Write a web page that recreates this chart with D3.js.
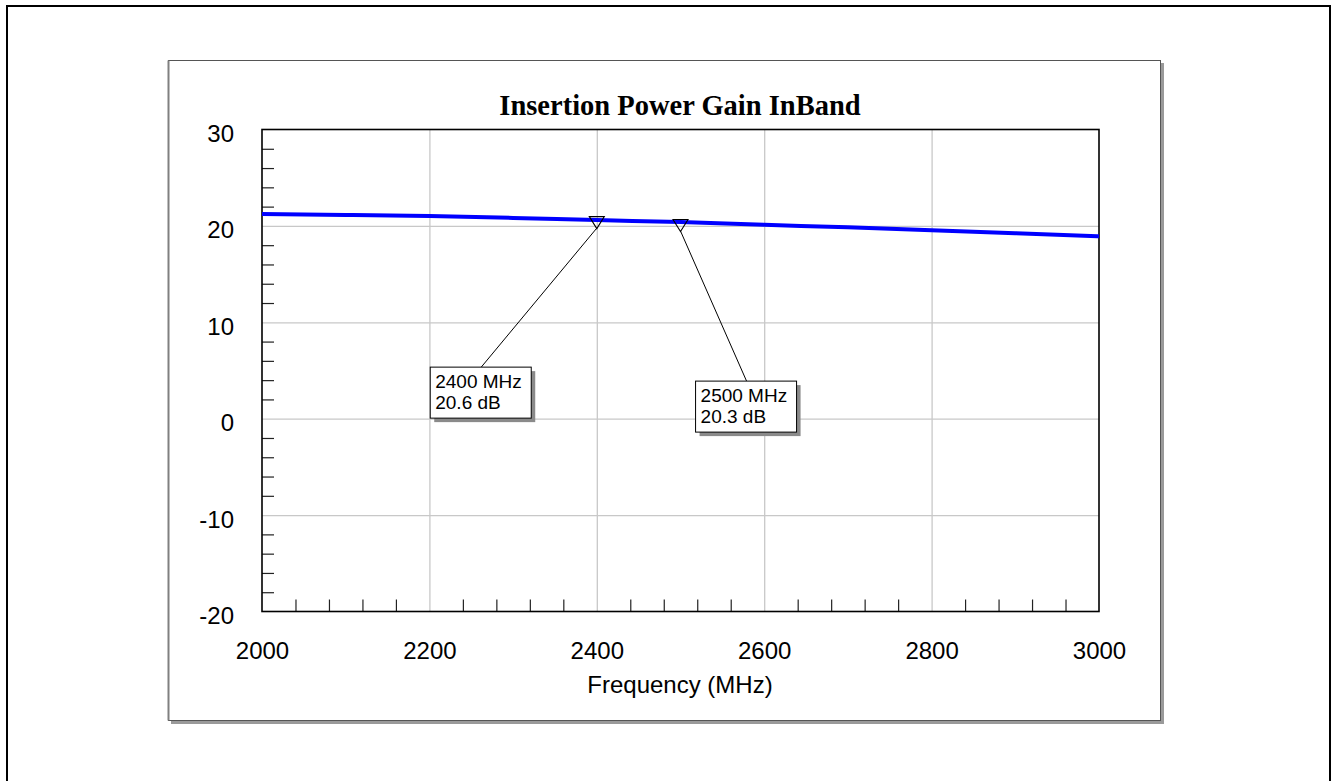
<!DOCTYPE html>
<html>
<head>
<meta charset="utf-8">
<script src="https://cdn.jsdelivr.net/npm/d3@7"></script>
<style>
  html, body { margin: 0; padding: 0; background: #fff; }
  svg { display: block; }
</style>
</head>
<body>
<svg id="chart" width="1334" height="781"></svg>
<script>
// ---- Data ----
const title = "Insertion Power Gain InBand";
const xAxisLabel = "Frequency (MHz)";
const freqMHz = [2000, 2100, 2200, 2300, 2400, 2500, 2600, 2700, 2800, 2900, 3000];
const gainDb  = [21.23, 21.14, 21.02, 20.83, 20.6, 20.4, 20.12, 19.85, 19.56, 19.25, 18.92];
const xTicks = [2000, 2200, 2400, 2600, 2800, 3000];
const yTicks = [-20, -10, 0, 10, 20, 30];
const markerFreq = [2400, 2500];
const markerGain = [20.6, 20.3];
const markerLabels = [["2400 MHz", "20.6 dB"], ["2500 MHz", "20.3 dB"]];
// label box anchors (top-left) in data coordinates
const labelBoxFreq = [2201, 2518];
const labelBoxGain = [5.35, 3.9];

// ---- Layout ----
const svg = d3.select("#chart");
const plot = { left: 262, top: 129.5, right: 1099, bottom: 611.5 };
const x = d3.scaleLinear().domain([2000, 3000]).range([plot.left, plot.right]);
const y = d3.scaleLinear().domain([-20, 30]).range([plot.bottom, plot.top]);
const sans = "Arial, 'Liberation Sans', sans-serif";
const fmt = d => String(d);

// outer border
svg.append("rect").attr("x", 7).attr("y", 6).attr("width", 1323).attr("height", 800)
  .attr("fill", "none").attr("stroke", "#000").attr("stroke-width", 2);

// panel with shadow
svg.append("rect").attr("x", 171).attr("y", 63).attr("width", 993).attr("height", 661)
  .attr("fill", "#9a9a9a");
svg.append("rect").attr("x", 168.5).attr("y", 60.5).attr("width", 992).attr("height", 660)
  .attr("fill", "#fff").attr("stroke", "#555").attr("stroke-width", 1);
svg.append("line").attr("x1", 168.5).attr("x2", 168.5).attr("y1", 60.5).attr("y2", 720.5)
  .attr("stroke", "#808080").attr("stroke-width", 2);

// gridlines
const gx = svg.append("g").attr("class", "grid-x")
  .attr("transform", `translate(0,${plot.bottom})`)
  .call(d3.axisBottom(x).tickValues(xTicks.slice(1, -1)).tickSize(-(plot.bottom - plot.top)).tickFormat(""));
gx.select(".domain").remove();
gx.selectAll("line").attr("stroke", "#c8c8c8").attr("stroke-width", 1.3);
const gy = svg.append("g").attr("class", "grid-y")
  .attr("transform", `translate(${plot.left},0)`)
  .call(d3.axisLeft(y).tickValues(yTicks.slice(1, -1)).tickSize(-(plot.right - plot.left)).tickFormat(""));
gy.select(".domain").remove();
gy.selectAll("line").attr("stroke", "#c8c8c8").attr("stroke-width", 1.3);

// minor ticks
const xMinor = d3.range(2000, 3000, 40).filter(v => v % 200 !== 0);
const yMinor = d3.range(-20, 30, 2).filter(v => v % 10 !== 0);
const mx = svg.append("g").attr("transform", `translate(0,${plot.bottom})`)
  .call(d3.axisBottom(x).tickValues(xMinor).tickSize(-12).tickFormat(""));
mx.select(".domain").remove();
mx.selectAll("line").attr("stroke", "#222").attr("stroke-width", 1.2);
const my = svg.append("g").attr("transform", `translate(${plot.left},0)`)
  .call(d3.axisLeft(y).tickValues(yMinor).tickSize(-12).tickFormat(""));
my.select(".domain").remove();
my.selectAll("line").attr("stroke", "#222").attr("stroke-width", 1.2);

// tick labels
const xl = svg.append("g").attr("transform", `translate(0,${plot.bottom})`)
  .call(d3.axisBottom(x).tickValues(xTicks).tickSize(0).tickPadding(0).tickFormat(fmt));
xl.select(".domain").remove();
xl.selectAll("text").attr("font-family", sans).attr("font-size", 24).attr("fill", "#000")
  .attr("dy", null).attr("y", 47);
const yl = svg.append("g").attr("transform", `translate(${plot.left},0)`)
  .call(d3.axisLeft(y).tickValues(yTicks).tickSize(0).tickPadding(0).tickFormat(fmt));
yl.select(".domain").remove();
yl.selectAll("text").attr("font-family", sans).attr("font-size", 24).attr("fill", "#000")
  .attr("x", -28).attr("dy", null).attr("y", 12);

// plot frame
svg.append("rect").attr("x", plot.left).attr("y", plot.top)
  .attr("width", plot.right - plot.left).attr("height", plot.bottom - plot.top)
  .attr("fill", "none").attr("stroke", "#000").attr("stroke-width", 1.6);

// data line
const line = d3.line().x((d, i) => x(freqMHz[i])).y(d => y(d)).curve(d3.curveMonotoneX);
svg.append("path").datum(gainDb).attr("d", line)
  .attr("fill", "none").attr("stroke", "#0000ff").attr("stroke-width", 4);

// markers, callouts, labels
markerFreq.forEach((f, i) => {
  const px = x(f), py = y(markerGain[i]);
  const bx = x(labelBoxFreq[i]), by = y(labelBoxGain[i]);
  const bw = 101, bh = 51;
  svg.append("line").attr("x1", px).attr("y1", py + 8).attr("x2", bx + 51).attr("y2", by)
    .attr("stroke", "#000").attr("stroke-width", 1);
  svg.append("path")
    .attr("d", `M${px - 7.5},${py - 3.5}L${px + 7.5},${py - 3.5}L${px},${py + 8.5}Z`)
    .attr("fill", "none").attr("stroke", "#000").attr("stroke-width", 1.1);
  svg.append("rect").attr("x", bx + 4).attr("y", by + 4).attr("width", bw).attr("height", bh)
    .attr("fill", "#8a8a8a");
  svg.append("rect").attr("x", bx).attr("y", by).attr("width", bw).attr("height", bh)
    .attr("fill", "#fff").attr("stroke", "#000").attr("stroke-width", 1);
  markerLabels[i].forEach((t, j) => {
    svg.append("text").attr("x", bx + 5).attr("y", by + 20.5 + j * 21)
      .attr("font-family", sans).attr("font-size", 19).attr("fill", "#000").text(t);
  });
});

// title & axis label
svg.append("text").attr("x", 680).attr("y", 115).attr("text-anchor", "middle")
  .attr("font-family", "'Times New Roman', 'Liberation Serif', serif").attr("font-weight", "bold")
  .attr("font-size", 28.5).attr("fill", "#000").text(title);
svg.append("text").attr("x", 680).attr("y", 693).attr("text-anchor", "middle")
  .attr("font-family", sans).attr("font-size", 24).attr("fill", "#000").text(xAxisLabel);
</script>
</body>
</html>
